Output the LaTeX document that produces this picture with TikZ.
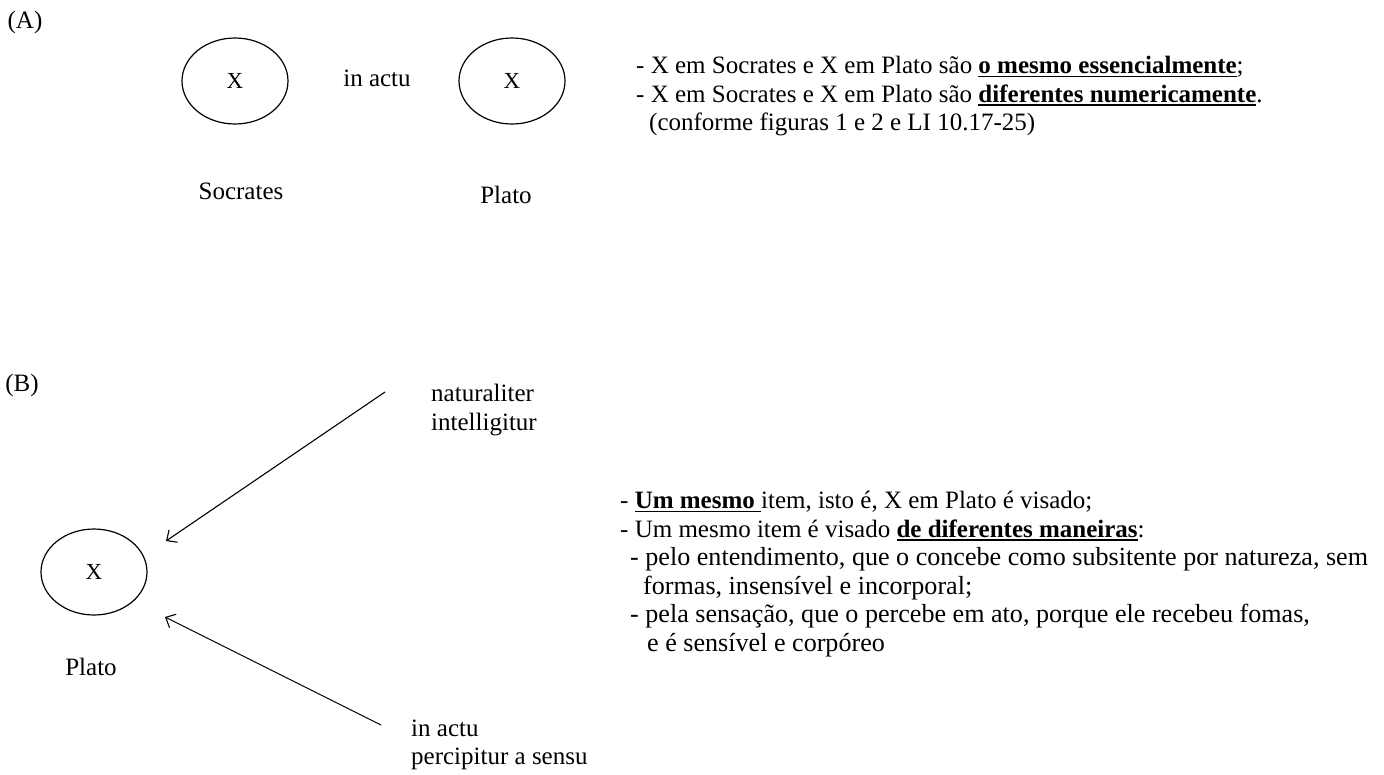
\documentclass[tikz,border=0pt]{standalone}
\usepackage{fontspec}
\setmainfont{Liberation Serif}
\usetikzlibrary{shapes.geometric,arrows.meta}
% bold text with a heavy underline
\newcommand\bul[1]{\setbox0\hbox{\textbf{#1}}\rlap{\rule[-3.8pt]{\wd0}{1.7pt}}\box0}
% slightly larger type for the indented sub-items
\newcommand\subsz{\fontsize{26.1}{28.5}\selectfont}
\tikzset{
  txt/.style={font=\fontsize{25}{28.5}\selectfont, inner sep=0pt},
  para/.style={txt, anchor=north west, align=left},
  blob/.style={draw, line width=1.2pt, ellipse, minimum width=106pt, minimum height=86pt, inner sep=0pt,
    font=\fontsize{23}{26}\selectfont},
  arr/.style={line width=1.1pt, -{Straight Barb[length=8pt,width=15pt,line width=1.1pt]}}
}
\begin{document}
\begin{tikzpicture}[x=1pt,y=-1pt]
\useasboundingbox[fill=white] (0,0) rectangle (1384,774);

% ---- part (A)
\node[txt] (labA) at (25,22) {(A)};
\node[blob] (socX) at (235,81) {X};
\node[blob] (platX) at (512,81) {X};
\node[txt] (actu) at (377,78) {in actu};
\node[txt] (soc) at (241,191) {Socrates};
\node[txt] (plat) at (506,195) {Plato};
\node[para] (textA) at (636,56) {%
  - X em Socrates e X em Plato são \bul{o mesmo essencialmente};\\
  - X em Socrates e X em Plato são \bul{diferentes numericamente}.\\
  \hspace*{13pt}(conforme figuras 1 e 2 e LI 10.17-25)};

% ---- part (B)
\node[txt] (labB) at (22,385) {(B)};
\node[blob] (pX) at (94,572) {X};
\node[txt] (pl) at (91,667) {Plato};
\node[txt, anchor=west, align=left] (nat) at (431,410) {naturaliter\\intelligitur};
\node[txt, anchor=west, align=left] (sens) at (411,745) {in actu\\percipitur a sensu};
\coordinate (n0) at (385,392);
\coordinate (n1) at (166,541);
\coordinate (s0) at (381,725);
\coordinate (s1) at (165,617);
\draw[arr] (n0) -- (n1);
\draw[arr] (s0) -- (s1);
\node[para] (textB) at (620,491) {%
  - \bul{Um mesmo }item, isto é, X em Plato é visado;\\
  - Um mesmo item é visado \bul{de diferentes maneiras}:\\
  {\subsz\hspace*{10pt}- pelo entendimento, que o concebe como subsitente por natureza, sem}\\
  {\subsz\hspace*{23pt}formas, insensível e incorporal;}\\
  {\subsz\hspace*{10pt}- pela sensação, que o percebe em ato, porque ele recebeu fomas,}\\
  {\subsz\hspace*{27pt}e é sensível e corpóreo}};
\end{tikzpicture}
\end{document}
